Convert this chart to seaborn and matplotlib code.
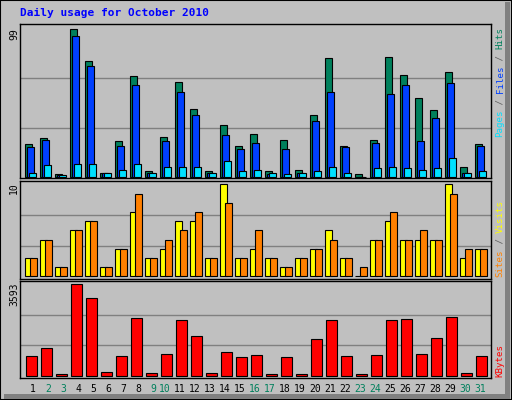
import matplotlib
matplotlib.use('Agg')
import matplotlib.pyplot as plt
import seaborn as sns
from matplotlib.patches import Rectangle

sns.set_style("white")
plt.rcParams['font.family'] = ['DejaVu Sans Mono']

days = list(range(1, 32))
weekend_days = [2, 3, 9, 10, 16, 17, 23, 24, 30, 31]

hits = [21.7, 26, 1.8, 99, 77.5, 2.2, 23.7, 67.4, 3.8, 26.7, 63.4, 45.2, 3.8, 34.5, 20.4, 28.4,
        3.8, 24.4, 4.3, 41.2, 79.5, 20.4, 1.8, 24.4, 80.2, 68, 52.6, 44.6, 70, 6.3, 21.7]
files = [19.7, 24.4, 1.3, 94.3, 74.1, 2.2, 20.4, 61.4, 2.2, 23.7, 56.7, 41.2, 2.2, 27.8, 18.4, 22.4,
         1.8, 18.4, 2.2, 37.2, 56.7, 19.7, 0, 22.4, 55.3, 61.4, 23.7, 39.2, 62.7, 2.2, 20.4]
pages = [2.2, 7.6, 1.3, 8.3, 8.3, 2.2, 4.3, 8.3, 2.2, 6.3, 6.3, 6.3, 2.2, 10.3, 3.6, 4.3,
         2.2, 1.6, 2.2, 3.6, 6.3, 2.2, 0, 5.6, 6.3, 5.6, 4.3, 5.6, 12.3, 2.2, 3.6]
visits = [2, 4, 1, 5, 6, 1, 3, 7, 2, 3, 6, 6, 2, 10, 2, 3, 2, 1, 2, 3, 5, 2, 0, 4, 6, 4, 4, 4, 10, 2, 3]
sites = [2, 4, 1, 5, 6, 1, 3, 9, 2, 4, 5, 7, 2, 8, 2, 5, 2, 1, 2, 3, 4, 2, 1, 4, 7, 4, 5, 4, 9, 3, 3]
kbytes = [758, 1071, 52, 3593, 3031, 131, 758, 2247, 91, 836, 2169, 1542, 91, 915, 719, 797,
          52, 719, 52, 1424, 2169, 758, 52, 797, 2169, 2208, 836, 1463, 2286, 91, 758]

W, H = 512, 400
BG = '#C0C0C0'
fig = plt.figure(figsize=(W / 100, H / 100), dpi=100, facecolor=BG)

LEFT, RIGHT = 20, 491
SLOT = 15


def fx(px):
    return px / W


def fy(py):
    return 1 - py / H


def make_panel(top, bottom, base, maxpx, maxval):
    ax = fig.add_axes([fx(LEFT), fy(bottom), fx(RIGHT - LEFT), (bottom - top) / H])
    ax.set_facecolor(BG)
    scale = maxval / (base - maxpx)
    ax.set_ylim(-(bottom - base) * scale, maxval + (maxpx - top) * scale)
    ax.set_xlim(0, RIGHT - LEFT)
    for frac in (1 / 3, 2 / 3):
        ax.axhline(maxval * frac, color='#808080', lw=1, zorder=0)
    ax.set_xticks([])
    ax.set_yticks([])
    for s in ax.spines.values():
        s.set_color('black')
        s.set_linewidth(1)
    return ax


def bars(ax, vals, offset, width, color):
    xs = [(d - 1) * SLOT + offset for d in days]
    ax.bar(xs, vals, width=width, align='edge', color=color, edgecolor='black', linewidth=0.8, zorder=2)


ax1 = make_panel(24, 178, 176.7, 29.3, 99)
bars(ax1, hits, 5.3, 7, '#00805C')
bars(ax1, files, 7, 7.3, '#0040FF')
bars(ax1, pages, 9, 7.3, '#00E0FF')

ax2 = make_panel(180.7, 279, 276.3, 184.3, 10)
bars(ax2, visits, 5.3, 7, '#FFFF00')
bars(ax2, sites, 9.7, 7, '#FF8000')

ax3 = make_panel(280.7, 377.7, 375.7, 284, 3593)
bars(ax3, kbytes, 6.3, 10.3, '#FF0000')

# title
fig.text(fx(20), fy(13), 'Daily usage for October 2010', color='#0000FF', fontsize=8,
         fontweight='bold', ha='left', va='center')

# max labels on the left
for txt, ytop in (('99', 28), ('10', 182), ('3593', 282)):
    fig.text(fx(14), fy(ytop), txt, rotation=90, fontsize=7, ha='center', va='top', color='black')


# right side legends, drawn piece by piece bottom to top
def legend(pieces, ybottom, char=5.5):
    y = ybottom
    for txt, col in pieces:
        fig.text(fx(500), fy(y), txt, rotation=90, fontsize=6.6, ha='center', va='bottom', color=col)
        y -= len(txt) * char


legend([('Pages', '#00E0FF'), (' / ', '#606060'), ('Files', '#0040FF'),
        (' / ', '#606060'), ('Hits', '#00805C')], 137)
legend([('Sites', '#FF8000'), (' / ', '#606060'), ('Visits', '#FFFF00')], 276.7)
legend([('KBytes', '#FF0000')], 376.7, char=6)

# day labels
for d in days:
    cx = LEFT + (d - 1) * SLOT + (13 if d < 10 else 10)
    col = '#00805C' if d in weekend_days else 'black'
    fig.text(fx(cx), fy(389), str(d), fontsize=7, ha='center', va='center', color=col)

# frame
fig.patches.append(Rectangle((0, 0), 1, 1, transform=fig.transFigure, fill=False,
                             edgecolor='black', lw=1.5))
fig.patches.append(Rectangle((fx(505), fy(396)), fx(5), 1 - fy(396) - 2 / H, transform=fig.transFigure,
                             facecolor='#808080', edgecolor='none'))
fig.patches.append(Rectangle((fx(4), fy(400) + 1.5 / H), fx(506), 4.5 / H, transform=fig.transFigure,
                             facecolor='#808080', edgecolor='none'))

fig.savefig('out.png', dpi=100, facecolor=BG)
